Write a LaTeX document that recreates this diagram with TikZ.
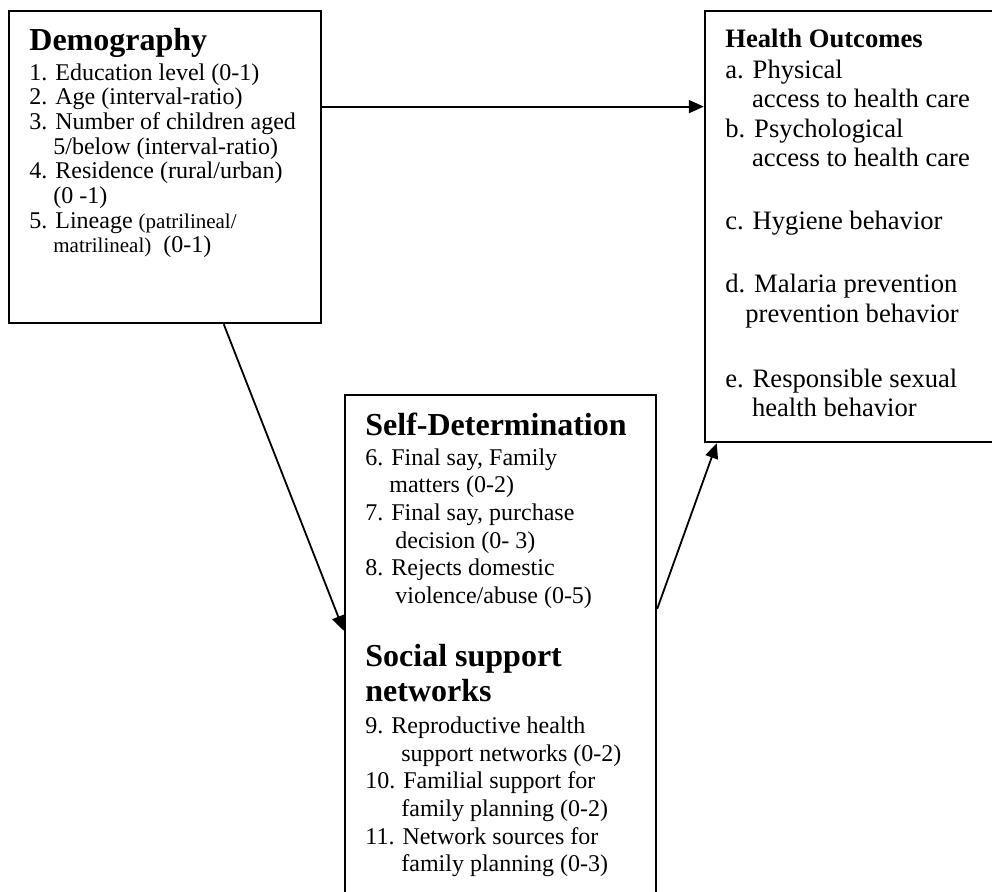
\documentclass[tikz,border=0pt]{standalone}
\usepackage{fontspec}
\setmainfont{Liberation Serif}
\usetikzlibrary{arrows.meta,calc}
\tikzset{
  box/.style={draw=black, line width=1.25pt, inner sep=0pt},
  txt/.style={anchor=base west, inner sep=0pt, align=left,
    execute at begin node={\lineskiplimit=-20pt\relax}},
  arr/.style={draw=black, line width=0.9pt, -{Triangle[length=7.5pt,width=6.5pt]}},
}
\newcommand{\hd}[1]{{\fontsize{16}{17.5}\selectfont\bfseries #1}}
\newcommand{\ind}[1][1em]{\hspace*{#1}}

\begin{document}
\begin{tikzpicture}[x=0.5pt,y=-0.5pt]
  \useasboundingbox (0,0) rectangle (992,892);
  \clip (0,0) rectangle (992,892);
  \fill[white] (0,0) rectangle (992,892);

  % boxes
  \node[box, minimum width=156pt, minimum height=156pt] (demo) at (165,167) {};
  \node[box, minimum width=147.5pt, minimum height=215.5pt] (health) at (852.5,226.5) {};
  \node[box, minimum width=155.5pt, minimum height=262.5pt] (selfdet) at (500.5,657.5) {};

  % box texts (placed at the baseline of their last line)
  \node[txt, font=\fontsize{12}{12.35}\selectfont] (demotxt) at (29,253) {%
    \hd{Demography}\\[2.65pt]
    1. Education level (0-1)\\
    2. Age (interval-ratio)\\
    3. Number of children aged\\
    \ind 5/below (interval-ratio)\\
    4. Residence (rural/urban)\\
    \ind (0 -1)\\
    5. Lineage {\fontsize{10.5}{12}\selectfont(patrilineal/}\\
    \ind {\fontsize{10.5}{12}\selectfont matrilineal)}\ \ (0-1)};

  \node[txt, font=\fontsize{13.3}{14.75}\selectfont] (healthtxt) at (725,417) {%
    \textbf{Health Outcomes}\\[0.75pt]
    a. Physical\\
    \ind access to health care\\
    b. Psychological\\
    \ind access to health care\\[16.75pt]
    c. Hygiene behavior\\[16.75pt]
    d. Malaria prevention\\
    \ind[0.75em]prevention behavior\\[17.75pt]
    e. Responsible sexual\\
    \ind health behavior};

  \node[txt, font=\fontsize{12}{13.85}\selectfont] (selftxt) at (365,872) {%
    \hd{Self-Determination}\\[1.15pt]
    6. Final say, Family\\
    \ind matters (0-2)\\
    7. Final say, purchase\\
    \ind[1.25em]decision (0- 3)\\
    8. Rejects domestic\\
    \ind[1.25em]violence/abuse (0-5)\\[17.65pt]
    \hd{Social support}\\[3.65pt]
    \hd{networks}\\[2.15pt]
    9. Reproductive health\\
    \ind[1.5em]support networks (0-2)\\
    10. Familial support for\\
    \ind[1.5em]family planning (0-2)\\
    11. Network sources for\\
    \ind[1.5em]family planning (0-3)};

  % arrows
  \coordinate (dh) at ($(demo.north east)!0.308!(demo.south east)$);
  \draw[arr] (dh) -- (dh -| health.west);
  \draw[arr] ([xshift=108pt]demo.south west) -- ([yshift=-118.5pt]selfdet.north west);
  \draw[arr] ([yshift=-107.5pt]selfdet.north east) -- ([xshift=6.5pt]health.south west);
\end{tikzpicture}
\end{document}
